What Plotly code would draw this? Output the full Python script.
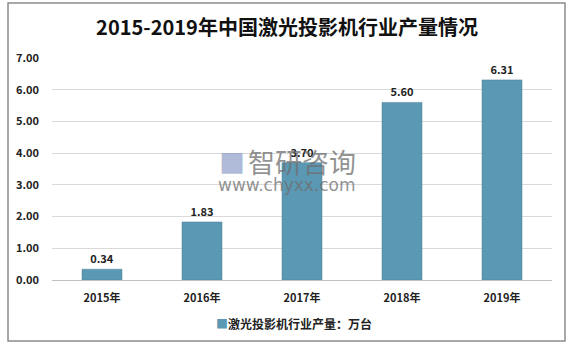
import plotly.graph_objects as go

years = ["2015年", "2016年", "2017年", "2018年", "2019年"]
output = [0.34, 1.83, 3.70, 5.60, 6.31]
series_name = "激光投影机行业产量：万台"
title_text = "2015-2019年中国激光投影机行业产量情况"

W, H = 574, 346
L, R, T, B = 52, 22, 58, 66
pw, ph = W - L - R, H - T - B

def px(x):
    return (x - L) / pw

def py(y):
    return (H - B - y) / ph

font_main = "Noto Sans CJK SC, Noto Sans, sans-serif"
bar_color = "#5b98b3"

fig = go.Figure()
fig.add_trace(go.Bar(
    x=years, y=output, name=series_name,
    marker=dict(color=bar_color, line=dict(color="#4d8198", width=0.5)),
    text=[f"{v:.2f}" for v in output], texttemplate="<b>%{text}</b>",
    textposition="outside",
    textfont=dict(size=11, color="#222222", family=font_main),
    cliponaxis=False, showlegend=False,
))

fig.update_layout(
    width=W, height=H,
    margin=dict(l=L, r=R, t=T, b=B),
    paper_bgcolor="white", plot_bgcolor="white",
    bargap=0.6,
    font=dict(family=font_main, color="#222222"),
    title=dict(text="<b>" + title_text + "</b>", x=0.5, xanchor="center",
               y=1 - 28 / H, yanchor="middle",
               font=dict(size=20, color="#111111", family=font_main)),
    xaxis=dict(showgrid=False, showline=True, linecolor="#bfbfbf", linewidth=1,
               ticks="", ticklabelstandoff=8,
               tickvals=years, ticktext=["<b>" + y + "</b>" for y in years],
               tickfont=dict(size=11, color="#222222", family=font_main)),
    yaxis=dict(range=[0, 7], showgrid=True,
               tickvals=list(range(8)), ticktext=["<b>%.2f</b>" % v for v in range(8)],
               gridcolor="#d9d9d9", gridwidth=1, zeroline=False, showline=False,
               ticks="", ticklabelstandoff=12,
               tickfont=dict(size=11, color="#222222", family=font_main)),
    shapes=[dict(type="rect", xref="paper", yref="paper",
                 x0=px(8), x1=px(565), y0=py(341), y1=py(3),
                 line=dict(color="#8c8c8c", width=1.5), fillcolor="rgba(0,0,0,0)",
                 layer="below")],
    annotations=[
        dict(text="<span style='color:%s'>■</span><b>%s</b>" % (bar_color, series_name),
             xref="paper", yref="paper", x=px(214), xanchor="left",
             y=py(323), yanchor="middle",
             showarrow=False, font=dict(size=12, color="#222222", family=font_main)),
        dict(text="智研咨询", xref="paper", yref="paper", x=px(302), xanchor="center",
             y=py(161), yanchor="middle",
             showarrow=False, font=dict(size=27, color="rgba(110,110,110,0.75)", family=font_main)),
        dict(text="www.chyxx.com", xref="paper", yref="paper", x=px(287), xanchor="center",
             y=py(185), yanchor="middle",
             showarrow=False, font=dict(size=17, color="rgba(110,110,110,0.75)", family="DejaVu Sans")),
        dict(text="<b>■</b>", xref="paper", yref="paper", x=px(232), xanchor="center",
             y=py(161), yanchor="middle",
             showarrow=False, font=dict(size=26, color="rgba(120,140,190,0.6)")),
    ],
)

fig.write_html("out.html")
